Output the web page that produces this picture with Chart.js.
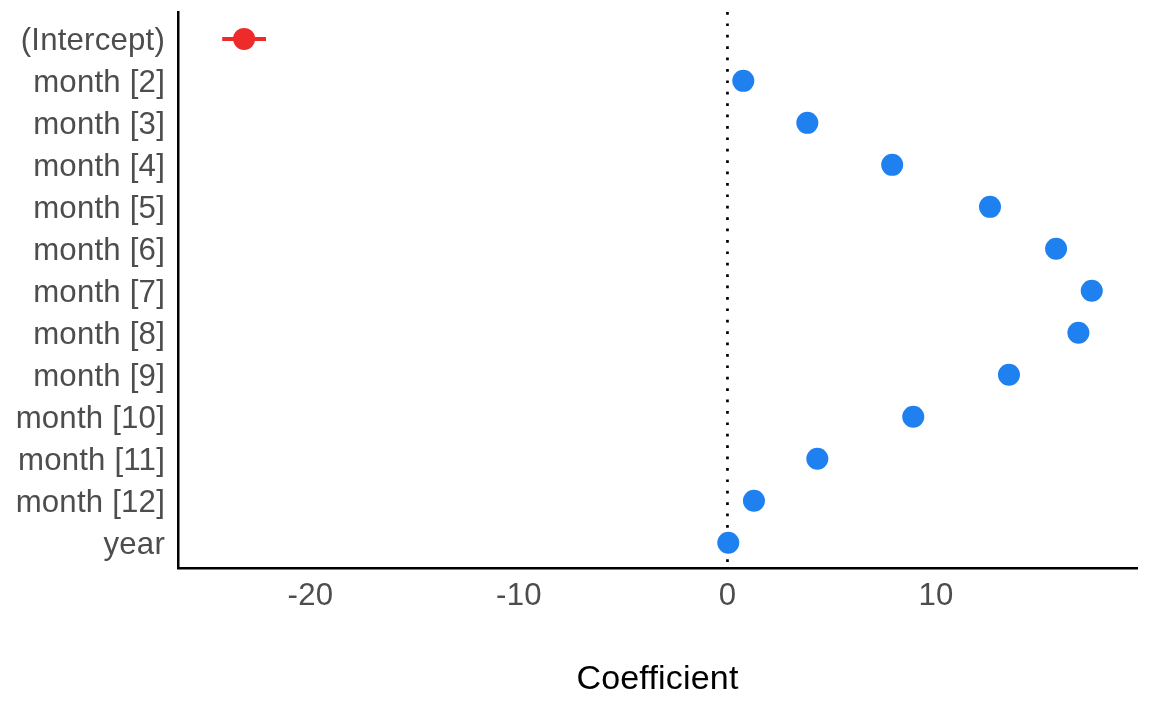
<!DOCTYPE html>
<html>
<head>
<meta charset="utf-8">
<script src="https://cdn.jsdelivr.net/npm/chart.js@4/dist/chart.umd.min.js"></script>
<style>
  html, body { margin: 0; padding: 0; background: #fff; }
  #wrap { width: 1152px; height: 711px; position: relative; }
</style>
</head>
<body>
<div id="wrap"><canvas id="coefChart"></canvas></div>
<script>
const terms = ['(Intercept)', 'month [2]', 'month [3]', 'month [4]', 'month [5]', 'month [6]',
  'month [7]', 'month [8]', 'month [9]', 'month [10]', 'month [11]', 'month [12]', 'year'];
const estimates = [-23.18, 0.76, 3.83, 7.90, 12.59, 15.76, 17.47, 16.83, 13.50, 8.91, 4.31, 1.27, 0.04];
const ciLow = [-24.23, null, null, null, null, null, null, null, null, null, null, null, null];
const ciHigh = [-22.13, null, null, null, null, null, null, null, null, null, null, null, null];
const xTicks = [-20, -10, 0, 10];

const positiveColor = '#1f80f0';
const negativeColor = '#ee2b2b';
const pointColors = estimates.map(v => (v < 0 ? negativeColor : positiveColor));

// error bars and the dotted zero line, both placed through the scales
const extras = {
  id: 'extras',
  beforeDraw(chart) {
    // a tiny letter spacing keeps "ffi" from turning into a ligature
    chart.ctx.letterSpacing = '0.2px';
  },
  beforeDatasetsDraw(chart) {
    const { ctx, chartArea, scales } = chart;
    const x0 = scales.x.getPixelForValue(0);
    ctx.save();
    ctx.strokeStyle = '#000';
    ctx.lineWidth = 2.7;
    ctx.setLineDash([2.7, 8.7]);
    ctx.beginPath();
    ctx.moveTo(x0, chartArea.top);
    ctx.lineTo(x0, chartArea.bottom);
    ctx.stroke();
    ctx.setLineDash([]);
    ctx.lineWidth = 4;
    estimates.forEach((_, i) => {
      if (ciLow[i] === null) return;
      const y = scales.y.getPixelForValue(i);
      ctx.strokeStyle = pointColors[i];
      ctx.beginPath();
      ctx.moveTo(scales.x.getPixelForValue(ciLow[i]), y);
      ctx.lineTo(scales.x.getPixelForValue(ciHigh[i]), y);
      ctx.stroke();
    });
    ctx.restore();
  },
};

const fontFamily = '"Liberation Sans", Arial, sans-serif';
const fontSize = 31.2;

new Chart(document.getElementById('coefChart'), {
  type: 'scatter',
  data: {
    datasets: [{
      data: estimates.map((v, i) => ({ x: v, y: i })),
      pointBackgroundColor: pointColors,
      pointBorderWidth: 0,
      pointRadius: 11,
      pointHoverRadius: 11,
    }],
  },
  options: {
    responsive: true,
    maintainAspectRatio: false,
    animation: false,
    layout: { padding: { top: 12, right: 15, left: 0, bottom: 0 } },
    plugins: { legend: { display: false }, tooltip: { enabled: false } },
    scales: {
      x: {
        type: 'linear',
        min: -26.35,
        max: 19.64,
        afterBuildTicks: scale => { scale.ticks = xTicks.map(value => ({ value })); },
        afterFit: scale => {
          scale.height = 143;
          scale.paddingLeft = 0;
          scale.paddingRight = 0;
        },
        grid: { display: false, drawTicks: false },
        border: { display: true, color: '#000', width: 2.5 },
        ticks: { color: '#4d4d4d', padding: 10, font: { family: fontFamily, size: fontSize } },
        title: {
          display: true,
          text: 'Coefficient',
          color: '#000',
          font: { family: fontFamily, size: 34 },
          padding: { top: 0, bottom: 11 },
        },
      },
      y: {
        type: 'linear',
        reverse: true,
        min: -0.64,
        max: 12.6,
        afterBuildTicks: scale => { scale.ticks = terms.map((_, i) => ({ value: i })); },
        afterFit: scale => {
          scale.width = 178;
          scale.paddingTop = 0;
          scale.paddingBottom = 0;
        },
        grid: { display: false, drawTicks: false },
        border: { display: true, color: '#000', width: 2.5 },
        ticks: {
          color: '#4d4d4d',
          padding: 13,
          labelOffset: 3,
          font: { family: fontFamily, size: fontSize },
          callback: value => terms[value],
        },
      },
    },
  },
  plugins: [extras],
});
</script>
</body>
</html>
